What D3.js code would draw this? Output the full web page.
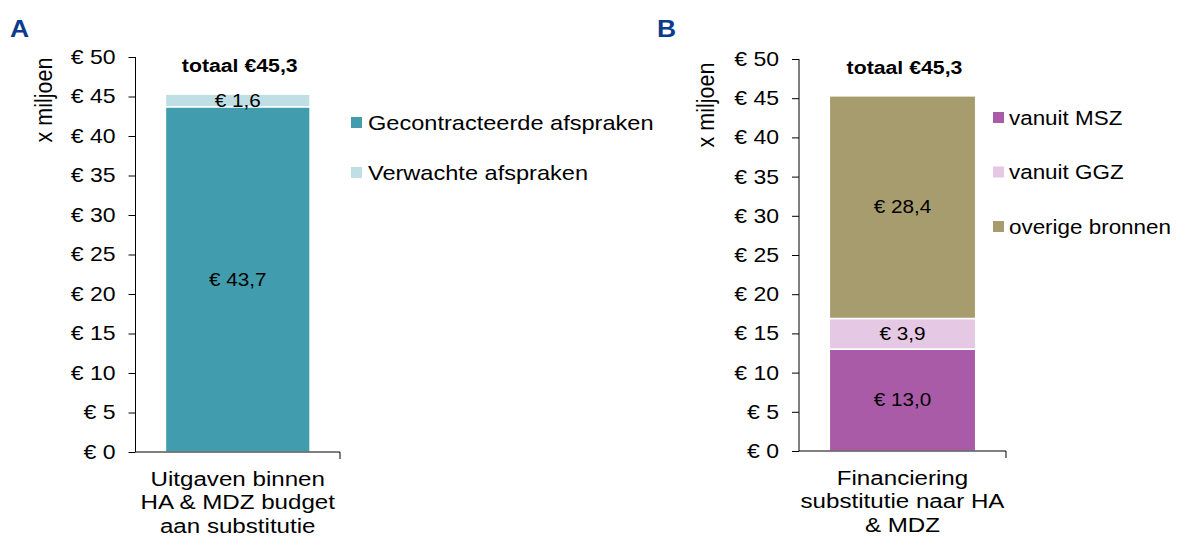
<!DOCTYPE html>
<html>
<head>
<meta charset="utf-8">
<script src="https://cdn.jsdelivr.net/npm/d3@7"></script>
<style>
  body { margin: 0; background: #fff; }
  text { font-family: "Liberation Sans", Arial, sans-serif; fill: #000; }
</style>
</head>
<body>
<svg id="chart" width="1201" height="545"></svg>
<script>
// panel A data
var seriesA = ["Gecontracteerde afspraken", "Verwachte afspraken"];
var valuesA = [43.7, 1.6];
var colorsA = ["#419dae", "#bfdfe4"];
var categoryA = ["Uitgaven binnen", "HA & MDZ budget", "aan substitutie"];

// panel B data
var seriesB = ["vanuit MSZ", "vanuit GGZ", "overige bronnen"];
var valuesB = [13.0, 3.9, 28.4];
var colorsB = ["#a95ba8", "#e5c8e3", "#a79c6e"];
var categoryB = ["Financiering", "substitutie naar HA", "& MDZ"];

var yTicks = [0, 5, 10, 15, 20, 25, 30, 35, 40, 45, 50];
var totals = ["totaal €45,3", "totaal €45,3"];

var svg = d3.select("#chart");
var fmt = function(v) { return "€ " + d3.format(".1f")(v).replace(".", ","); };

// the original text is a bit wider than Arial, stretch it around its anchor x
var SX = 1.15;
function stretch(sel) {
    sel.attr("transform", function() {
        var x = +d3.select(this).attr("x") || 0;
        return "translate(" + x + ",0) scale(" + SX + ",1) translate(" + (-x) + ",0)";
    });
}

function drawPanel(opt) {
    var g = svg.append("g");

    var y = d3.scaleLinear().domain([0, 50]).range([opt.y0, opt.y1]);
    var x = d3.scaleBand().domain([0]).range([opt.ax, opt.ax2]).paddingInner(0).paddingOuter(0.207);

    // panel letter
    g.append("text")
        .attr("x", opt.letterX).attr("y", 37)
        .style("font-size", "23px").style("font-weight", "bold")
        .style("fill", "#0b3c8c")
        .text(opt.letter)
        .call(stretch);

    // stacked segments
    var stack = [];
    var acc = 0;
    opt.values.forEach(function(v, i) {
        stack.push({y0: acc, y1: acc + v, v: v, c: opt.colors[i]});
        acc += v;
    });

    g.selectAll("rect.seg").data(stack).enter().append("rect")
        .attr("class", "seg")
        .attr("x", x(0)).attr("width", x.bandwidth())
        .attr("y", function(d) { return y(d.y1); })
        .attr("height", function(d) { return y(d.y0) - y(d.y1); })
        .style("fill", function(d) { return d.c; })
        .style("stroke", "#fff").style("stroke-width", 1.5);

    g.selectAll("text.val").data(stack).enter().append("text")
        .attr("class", "val")
        .attr("x", x(0) + x.bandwidth() / 2)
        .attr("y", function(d) { return (y(d.y0) + y(d.y1)) / 2; })
        .attr("dy", "0.35em")
        .attr("text-anchor", "middle")
        .style("font-size", "18px")
        .text(function(d) { return fmt(d.v); })
        .call(stretch);

    // total
    g.append("text")
        .attr("x", x(0) + x.bandwidth() / 2 + 2)
        .attr("y", y(acc) - 22)
        .attr("text-anchor", "middle")
        .style("font-size", "18.5px").style("font-weight", "bold")
        .text(opt.total)
        .call(stretch);

    // y axis
    var yAxis = g.append("g")
        .attr("transform", "translate(" + opt.ax + ",0)")
        .call(d3.axisLeft(y).tickValues(yTicks).tickSize(7).tickPadding(13)
            .tickFormat(function(d) { return "€ " + d; }));
    yAxis.selectAll("text")
        .style("font-size", "20px")
        .style("font-family", "Liberation Sans, Arial, sans-serif")
        .call(stretch);
    yAxis.selectAll("path, line").style("stroke", "#000");
    yAxis.select(".domain").attr("d", "M0," + opt.y1 + "V" + opt.y0);

    // x axis line
    g.append("line")
        .attr("x1", opt.ax).attr("x2", opt.ax2)
        .attr("y1", opt.y0).attr("y2", opt.y0)
        .style("stroke", "#000");
    g.append("line")
        .attr("x1", opt.ax2).attr("x2", opt.ax2)
        .attr("y1", opt.y0).attr("y2", opt.y0 + 7)
        .style("stroke", "#000");

    // y title
    g.append("text")
        .attr("transform", "translate(" + opt.titleX + "," + opt.titleY + ") scale(" + SX + ",1) rotate(-90)")
        .attr("text-anchor", "middle")
        .style("font-size", "21.5px")
        .text("x miljoen");

    // category label
    g.append("g").selectAll("text").data(opt.category).enter().append("text")
        .attr("x", (opt.ax + opt.ax2) / 2)
        .attr("y", function(d, i) { return opt.y0 + 34 + i * 23.5; })
        .attr("text-anchor", "middle")
        .style("font-size", "21px")
        .text(function(d) { return d; })
        .call(stretch);

    // legend
    var leg = g.selectAll("g.legend").data(opt.series).enter().append("g")
        .attr("class", "legend")
        .attr("transform", function(d, i) { return "translate(" + opt.legX + "," + (opt.legY + i * opt.legStep) + ")"; });
    leg.append("rect")
        .attr("x", 0).attr("y", -6).attr("width", 11).attr("height", 11)
        .style("fill", function(d, i) { return opt.colors[i]; });
    leg.append("text")
        .attr("x", opt.legText).attr("dy", "0.35em")
        .style("font-size", opt.legFont)
        .text(function(d) { return d; })
        .call(stretch);
}

drawPanel({
    letter: "A", letterX: 10,
    values: valuesA, colors: colorsA, series: seriesA, category: categoryA, total: totals[0],
    ax: 135.5, ax2: 340, y0: 452, y1: 57,
    titleX: 52, titleY: 100,
    legX: 351, legY: 123, legStep: 50, legText: 17, legFont: "20.5px"
});

drawPanel({
    letter: "B", letterX: 657,
    values: valuesB, colors: colorsB, series: seriesB, category: categoryB, total: totals[1],
    ax: 799, ax2: 1006, y0: 451, y1: 59,
    titleX: 714, titleY: 105,
    legX: 993, legY: 118, legStep: 54.5, legText: 16, legFont: "19.5px"
});
</script>
</body>
</html>
